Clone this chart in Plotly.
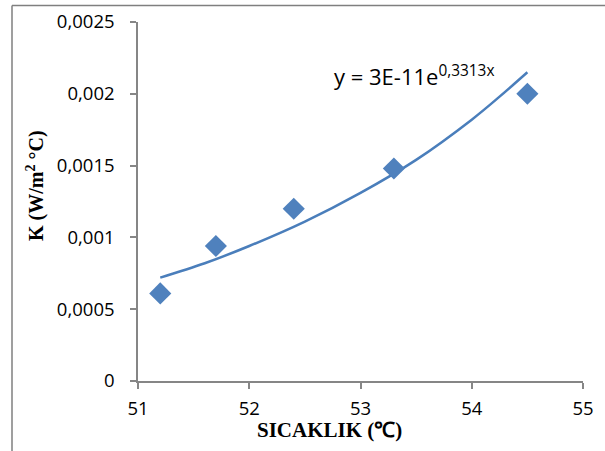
import plotly.graph_objects as go

# Measured points
temperature = [51.2, 51.7, 52.4, 53.3, 54.5]
k_values = [0.00061, 0.00094, 0.00120, 0.00148, 0.00200]

# Exponential trendline, values
trend_x = [51.2, 51.6, 52.0, 52.5, 53.0, 53.5, 54.0, 54.25, 54.5]
trend_y = [0.00072, 0.00082, 0.00094, 0.00111, 0.00131, 0.00154, 0.00182, 0.00198, 0.00215]

y_ticks = [0, 0.0005, 0.001, 0.0015, 0.002, 0.0025]
y_tick_labels = ["0", "0,0005", "0,001", "0,0015", "0,002", "0,0025"]
x_ticks = [51, 52, 53, 54, 55]

blue = "#4F81BD"

fig = go.Figure()
fig.add_trace(go.Scatter(
    x=trend_x, y=trend_y, mode="lines", line=dict(color="#4A7EBB", width=2.5, shape="spline"),
    hoverinfo="skip", showlegend=False))
fig.add_trace(go.Scatter(
    x=temperature, y=k_values, mode="markers",
    marker=dict(symbol="diamond", size=17, color=blue), showlegend=False))

axis_color = "#868686"
tick_font = dict(size=18.5, family="Open Sans, sans-serif", color="#000")
fig.update_layout(
    width=605, height=451,
    margin=dict(l=138, r=22, t=22, b=70, autoexpand=False),
    paper_bgcolor="white", plot_bgcolor="white",
    font=dict(family="Open Sans, Liberation Sans, sans-serif", size=15, color="#000000"),
    xaxis=dict(range=[51, 55], tickvals=x_ticks, ticktext=[str(v) for v in x_ticks],
               showgrid=False, zeroline=False, showline=True, linecolor=axis_color, linewidth=1.5,
               ticks="outside", ticklen=6, tickcolor=axis_color, tickwidth=1.5,
               ticklabelstandoff=4, tickfont=tick_font, automargin=False),
    yaxis=dict(range=[0, 0.0025], tickvals=y_ticks, ticktext=y_tick_labels,
               showgrid=False, zeroline=False, showline=True, linecolor=axis_color, linewidth=1.5,
               ticks="outside", ticklen=6, tickcolor=axis_color, tickwidth=1.5,
               ticklabelstandoff=12, tickfont=tick_font, automargin=False),
    annotations=[
        dict(text="y = 3E-11e<sup>0,3313x</sup>", xref="paper", yref="paper",
             x=(332 - 138) / 445, y=(381 - 76) / 359, xanchor="left", yanchor="middle",
             showarrow=False, font=dict(size=22, family="Open Sans, sans-serif", color="#000")),
        dict(text="<b>SICAKLIK (℃)</b>", xref="paper", yref="paper",
             x=(329 - 138) / 445, y=(381 - 430) / 359, xanchor="center", yanchor="middle",
             showarrow=False, font=dict(size=21, family="Liberation Serif, serif", color="#000")),
        dict(text="<b>K (W/m<sup>2</sup> °C)</b>", xref="paper", yref="paper",
             x=(35 - 138) / 445, y=(381 - 186) / 359, xanchor="center", yanchor="middle",
             textangle=-90, showarrow=False,
             font=dict(size=20, family="Liberation Serif, serif", color="#000")),
    ],
    shapes=[
        dict(type="line", xref="paper", yref="paper",
             x0=(12 - 138) / 445, x1=(12 - 138) / 445,
             y0=(381 - 5.5) / 359, y1=(381 - 470) / 359,
             line=dict(color="#7f7f7f", width=1.5)),
        dict(type="line", xref="paper", yref="paper",
             x0=(12 - 138) / 445, x1=(620 - 138) / 445,
             y0=(381 - 5.5) / 359, y1=(381 - 5.5) / 359,
             line=dict(color="#7f7f7f", width=1.5)),
    ],
)

fig.write_html("out.html")
